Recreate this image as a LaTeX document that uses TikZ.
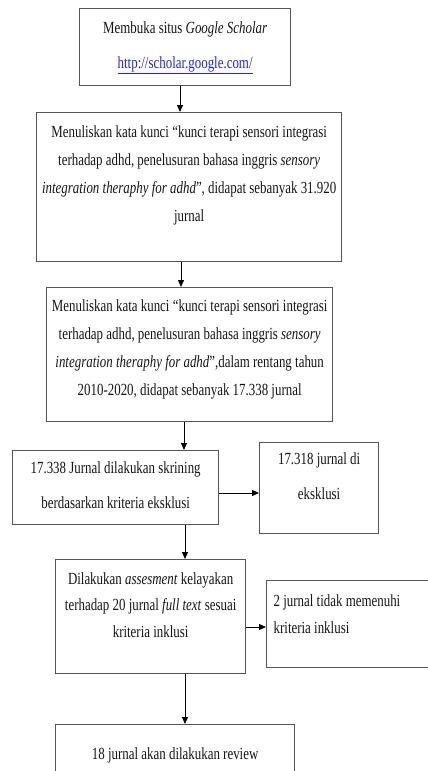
\documentclass[tikz,border=0pt]{standalone}
\usepackage{fontspec}
\setmainfont{Liberation Serif}[FakeStretch=0.76]
\usetikzlibrary{arrows.meta}
\definecolor{boxgray}{HTML}{555555}
\definecolor{linkblue}{HTML}{2424E0}
\definecolor{inkblack}{HTML}{141414}
% text of a box: width, height, top space, line distance, lines
\newcommand{\flowtext}[5]{\parbox[t][#2pt][t]{#1pt}{\vspace*{#3pt}\fontsize{17}{#4}\selectfont\centering #5\par}}

\begin{document}
\begin{tikzpicture}[x=1pt, y=-1pt,
    box/.style={draw=boxgray, line width=1.3pt, inner sep=0pt, anchor=north west, text=inkblack},
    flow/.style={-{Triangle[length=7pt,width=6pt]}, line width=1pt}]
    \path[use as bounding box] (0,0) rectangle (428,771);
    \clip (0,0) rectangle (428,771);

    % ---------------------------------------------
    % search steps
    \node[box] (site) at (79,8) {\flowtext{211}{77}{13}{35}{Membuka situs \textit{Google Scholar}\\
        \textcolor{linkblue}{\underline{http://scholar.google.com/}}}};
    \node[box] (keyword) at (36,112) {\flowtext{305}{149}{13}{28}{Menuliskan kata kunci “kunci terapi sensori integrasi\\
        terhadap adhd, penelusuran bahasa inggris \textit{sensory}\\
        \textit{integration theraphy for adhd}”, didapat sebanyak 31.920\\
        jurnal}};
    \node[box] (range) at (46,287) {\flowtext{286}{134}{12}{28}{Menuliskan kata kunci “kunci terapi sensori integrasi\\
        terhadap adhd, penelusuran bahasa inggris \textit{sensory}\\
        \textit{integration theraphy for adhd}”,dalam rentang tahun\\
        2010-2020, didapat sebanyak 17.338 jurnal}};

    % ---------------------------------------------
    % screening and assessment
    \node[box] (screen) at (12,450) {\flowtext{206}{74}{11}{35}{17.338 Jurnal dilakukan skrining\\
        berdasarkan kriteria eksklusi}};
    \node[box] (excluded) at (259,442) {\flowtext{119}{91}{10}{35}{17.318 jurnal di\\ eksklusi}};
    \node[box] (assess) at (55,559) {\flowtext{190}{114}{13}{26.5}{Dilakukan \textit{assesment} kelayakan\\
        terhadap 20 jurnal \textit{full text} sesuai\\
        kriteria inklusi}};
    \node[box] (notincl) at (266,580) {\flowtext{190}{87}{14}{27}{\raggedright\leftskip=7pt
        2 jurnal tidak memenuhi\\ kriteria inklusi}};
    \node[box] (review) at (55,724) {\flowtext{239}{80}{23}{28}{18 jurnal akan dilakukan review}};

    % ---------------------------------------------
    % connectors
    \foreach \a/\b/\x in {site/keyword/180, keyword/range/181, range/screen/184,
        screen/assess/185, assess/review/185}
        \draw[flow] (\a.south -| \x,0) -- (\b.north -| \x,0);
    \draw[flow] (screen.east |- 0,493) -- (excluded.west |- 0,493);
    \draw[flow] (assess.east |- 0,627) -- (notincl.west |- 0,627);

\end{tikzpicture}
\end{document}
